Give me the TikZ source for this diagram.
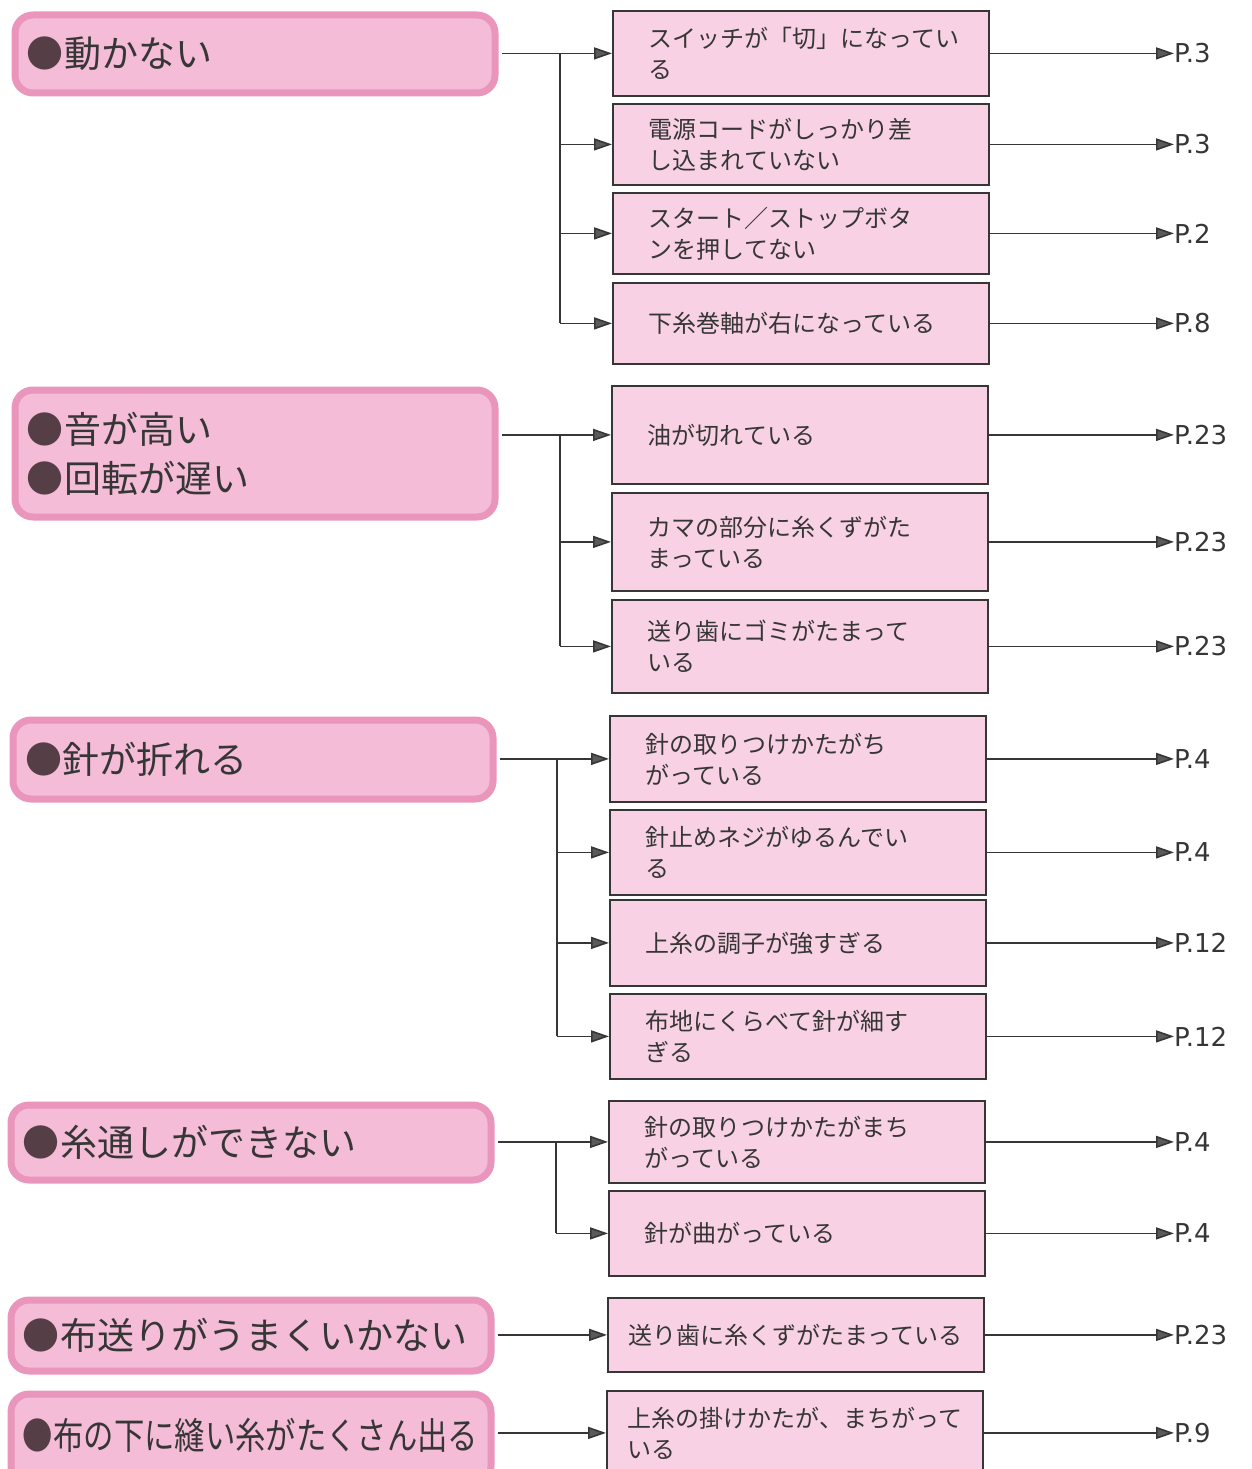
\documentclass[tikz,border=0pt]{standalone}
\usepackage{fontspec}
\setmainfont{Noto Sans CJK JP}
\newfontfamily\latinfont{DejaVu Sans}
\usetikzlibrary{arrows.meta}
\definecolor{hdrfill}{HTML}{F4BCD6}
\definecolor{hdrline}{HTML}{EA95BC}
\definecolor{boxfill}{HTML}{F8D2E4}
\definecolor{ink}{HTML}{363636}
\definecolor{bulletc}{HTML}{553E46}
\definecolor{tipfill}{HTML}{5A5A5A}
\newcommand\bulmark{{\color{bulletc}●}}
\tikzset{
  hdr/.style={draw=hdrline, fill=hdrfill, line width=7pt, rounded corners=18pt,
    anchor=north west, minimum height=#1, minimum width=480pt,
    inner xsep=12pt, text width=456pt, align=left,
    font=\fontsize{37}{49}\selectfont, text=ink},
  cause/.style={draw=ink, fill=boxfill, line width=1.8pt, anchor=north west,
    minimum height=#1, minimum width=376pt, inner xsep=36pt, text width=304pt,
    align=left, font=\fontsize{24}{31}\selectfont, text=ink},
  pg/.style={anchor=west, inner sep=0pt, font=\latinfont\fontsize{26}{26}\selectfont, text=ink},
  conn/.style={draw=ink, line width=1.6pt},
  arr/.style={conn, -{Triangle[length=18pt, width=12pt, fill=tipfill]}},
}
\begin{document}
\begin{tikzpicture}[x=1pt,y=-1pt]
\useasboundingbox (0,0) rectangle (1251,1469);

% headers
\node[hdr=78pt] (h1) at (11.5,11.5) {\bulmark 動かない};
\node[hdr=127pt] (h2) at (11.5,386.5) {\bulmark 音が高い\\\bulmark 回転が遅い};
\node[hdr=79pt] (h3) at (9.5,716.5) {\bulmark 針が折れる};
\node[hdr=75pt] (h4) at (7.5,1101.5) {\bulmark 糸通しができない};
\node[hdr=71pt] (h5) at (7.5,1296.5) {\bulmark 布送りがうまくいかない};
\node[hdr=90pt, text depth=10pt] (h6) at (7.5,1390.5) {\scalebox{0.82}[1]{\bulmark 布の下に縫い糸がたくさん出る}};

% cause boxes
\node[cause=85pt] (b1) at (612,10) {スイッチが「切」になってい\\る};
\node[cause=81pt] (b2) at (612,103) {電源コードがしっかり差\\し込まれていない};
\node[cause=81pt] (b3) at (612,192) {スタート／ストップボタ\\ンを押してない};
\node[cause=81pt] (b4) at (612,282) {下糸巻軸が右になっている};

\node[cause=98pt] (b5) at (611,385) {油が切れている};
\node[cause=98pt] (b6) at (611,492) {カマの部分に糸くずがた\\まっている};
\node[cause=93pt] (b7) at (611,599) {送り歯にゴミがたまって\\いる};

\node[cause=86pt] (b8) at (609,715) {針の取りつけかたがち\\がっている};
\node[cause=85pt] (b9) at (609,809) {針止めネジがゆるんでい\\る};
\node[cause=86pt] (b10) at (609,899) {上糸の調子が強すぎる};
\node[cause=85pt] (b11) at (609,993) {布地にくらべて針が細す\\ぎる};

\node[cause=82pt] (b12) at (608,1100) {針の取りつけかたがまち\\がっている};
\node[cause=85pt] (b13) at (608,1190) {針が曲がっている};

\node[cause=74pt, inner xsep=21pt, text width=334pt] (b14) at (607,1297) {送り歯に糸くずがたまっている};
\node[cause=84pt, inner xsep=21pt, text width=334pt] (b15) at (606,1390) {上糸の掛けかたが、まちがって\\いる};

% page labels
\coordinate (rx) at (1174,0);
\node[pg] (p1) at (rx |- b1.east) {P.3};
\node[pg] (p2) at (rx |- b2.east) {P.3};
\node[pg] (p3) at (rx |- b3.east) {P.2};
\node[pg] (p4) at (rx |- b4.east) {P.8};
\node[pg] (p5) at (rx |- b5.east) {P.23};
\node[pg] (p6) at (rx |- b6.east) {P.23};
\node[pg] (p7) at (rx |- b7.east) {P.23};
\node[pg] (p8) at (rx |- b8.east) {P.4};
\node[pg] (p9) at (rx |- b9.east) {P.4};
\node[pg] (p10) at (rx |- b10.east) {P.12};
\node[pg] (p11) at (rx |- b11.east) {P.12};
\node[pg] (p12) at (rx |- b12.east) {P.4};
\node[pg] (p13) at (rx |- b13.east) {P.4};
\node[pg] (p14) at (rx |- b14.east) {P.23};
\node[pg] (p15) at (rx |- b15.east) {P.9};

% trunks
\coordinate (t1) at (560,0);
\coordinate (t3) at (557,0);
\coordinate (t4) at (556,0);

\draw[arr, shorten <=3.5pt] (h1.east |- b1.west) -- (b1.west);
\draw[conn] (t1 |- b1.west) -- (t1 |- b4.west);
\draw[arr] (t1 |- b2.west) -- (b2.west);
\draw[arr] (t1 |- b3.west) -- (b3.west);
\draw[arr] (t1 |- b4.west) -- (b4.west);

\draw[arr, shorten <=3.5pt] (h2.east |- b5.west) -- (b5.west);
\draw[conn] (t1 |- b5.west) -- (t1 |- b7.west);
\draw[arr] (t1 |- b6.west) -- (b6.west);
\draw[arr] (t1 |- b7.west) -- (b7.west);

\draw[arr, shorten <=3.5pt] (h3.east |- b8.west) -- (b8.west);
\draw[conn] (t3 |- b8.west) -- (t3 |- b11.west);
\draw[arr] (t3 |- b9.west) -- (b9.west);
\draw[arr] (t3 |- b10.west) -- (b10.west);
\draw[arr] (t3 |- b11.west) -- (b11.west);

\draw[arr, shorten <=3.5pt] (h4.east |- b12.west) -- (b12.west);
\draw[conn] (t4 |- b12.west) -- (t4 |- b13.west);
\draw[arr] (t4 |- b13.west) -- (b13.west);

\draw[arr, shorten <=3.5pt] (h5.east |- b14.west) -- (b14.west);
\draw[arr, shorten <=3.5pt] (h6.east |- p15.west) -- (b15.west |- p15.west);

% to page labels
\foreach \i in {1,...,14} {
  \draw[arr] (b\i.east) -- (p\i.west);
}
\draw[arr] (b15.east |- p15.west) -- (p15.west);
\end{tikzpicture}
\end{document}
